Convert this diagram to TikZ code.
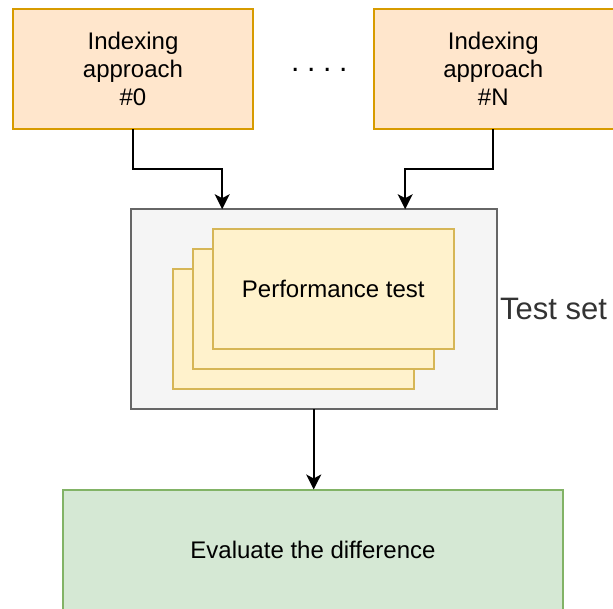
\documentclass[tikz,border=0pt]{standalone}
\usepackage{fontspec}
\setmainfont{Liberation Sans}
\usetikzlibrary{arrows.meta,calc}

\definecolor{orangefill}{HTML}{FFE6CC}
\definecolor{orangeline}{HTML}{D79B00}
\definecolor{grayfill}{HTML}{F5F5F5}
\definecolor{grayline}{HTML}{666666}
\definecolor{yellowfill}{HTML}{FFF2CC}
\definecolor{yellowline}{HTML}{D6B656}
\definecolor{greenfill}{HTML}{D5E8D4}
\definecolor{greenline}{HTML}{82B366}
\definecolor{labelgray}{HTML}{333333}

\tikzset{
  box/.style={rectangle, line width=2pt, inner sep=0pt, outer sep=0pt,
    font=\fontsize{24}{28.3}\selectfont, align=center},
  approach/.style={box, draw=orangeline, fill=orangefill,
    minimum width=240pt, minimum height=120pt},
  testbox/.style={box, draw=grayline, fill=grayfill,
    minimum width=366pt, minimum height=200pt},
  perfcard/.style={box, draw=yellowline, fill=yellowfill,
    minimum width=241pt, minimum height=120pt},
  evalbox/.style={box, draw=greenline, fill=greenfill,
    minimum width=500pt, minimum height=120pt},
  flow/.style={line width=2pt, -{Stealth[length=15pt,width=15pt,inset=4pt]}},
}

\begin{document}
\begin{tikzpicture}[x=1pt, y=-1pt]
  \useasboundingbox (0,0) rectangle (613,608);
  \clip (0,0) rectangle (613,608);

  % indexing approaches
  \node[approach] (app0) at (133,69) {Indexing\\approach\\\#0};
  \node[approach, minimum width=241pt, text width=240pt, align=center] (appN) at (494,69)
    {\hspace*{-1.4pt}Indexing\\\hspace*{-1.4pt}approach\\\hspace*{-1.4pt}\#N};
  \node[font=\fontsize{30}{34}\selectfont, anchor=base, inner sep=0pt] (dots) at (319.3,71)
    {.\hspace{7.7pt}.\hspace{7.7pt}.\hspace{7.7pt}.};

  % test set with stacked performance tests
  \node[testbox] (testset) at (313.7,309.2) {};
  \node[perfcard] (card3) at (293.3,329.3) {};
  \node[perfcard] (card2) at (313.3,309.3) {};
  \node[perfcard] (card1) at (333.3,289.3) {};
  \node[font=\fontsize{24}{28}\selectfont, inner sep=0pt] (perf) at (333.3,288.5) {Performance test};
  \node[font=\fontsize{31}{36}\selectfont, text=labelgray, anchor=west, inner sep=0pt]
    (testlabel) at (500,309) {Test set};

  % evaluation
  \node[evalbox] (eval) at (313,549.5) {Evaluate the difference};

  % connectors
  \coordinate (outN) at ($(appN.south)+(-0.7,0)$);
  \coordinate (in0) at ($(testset.north west)!0.25!(testset.north east)$);
  \coordinate (inN) at ($(testset.north west)!0.75!(testset.north east)$);
  \draw[flow] (app0.south) -- ++(0,40) -| (in0);
  \draw[flow] (outN) -- ++(0,40) -| (inN);
  \draw[flow] (testset.south) -- (testset.south |- eval.north);
\end{tikzpicture}
\end{document}
